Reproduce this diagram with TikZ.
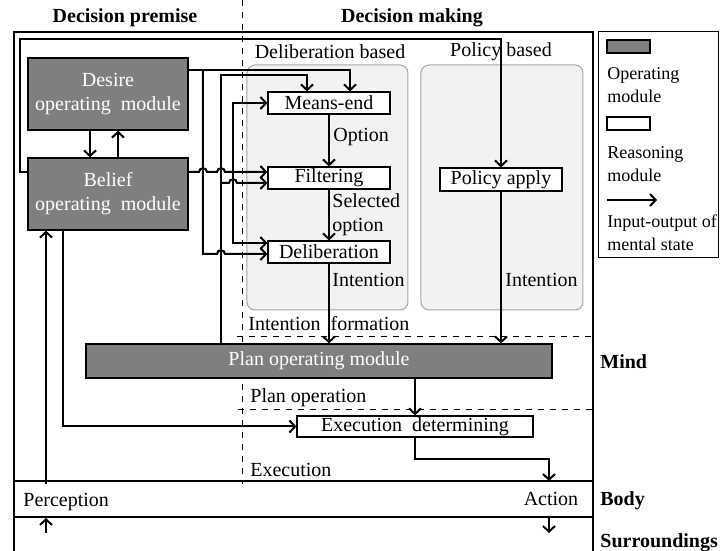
\documentclass[tikz,border=0pt]{standalone}
\usepackage{fontspec}
\setmainfont{Liberation Serif}
\usetikzlibrary{arrows.meta, positioning}
\definecolor{opgray}{HTML}{7F7F7F}
\definecolor{groupfill}{HTML}{F2F2F2}
\definecolor{groupline}{HTML}{A6A6A6}

\begin{document}
\begin{tikzpicture}[x=0.5pt,y=-0.5pt,font=\fontsize{10}{12}\selectfont,
    opmod/.style={draw=black,line width=0.6pt,fill=opgray,text=white,align=center,inner sep=0pt},
    reasmod/.style={draw=black,line width=0.6pt,fill=white,inner sep=0pt,minimum width=61pt,minimum height=11pt},
    io/.style={line width=1pt,-{Straight Barb[length=2.8pt,width=6pt]}},
    group/.style={draw=groupline,fill=groupfill,rounded corners=4pt,line width=0.5pt},
    frame/.style={line width=0.8pt},
    sep/.style={dashed,line width=0.4pt},
    lbl/.style={anchor=west,inner sep=0pt,align=left},
    legtext/.style={lbl,font=\fontsize{9}{11.5}\selectfont},
    head/.style={font=\fontsize{10}{12}\selectfont\bfseries}]
    \useasboundingbox (0,0) rectangle (720,551);
    % frame and layers
    \draw[frame] (14,551) -- (14,32) -- (593,32) -- (593,551);
    \draw[frame] (14,481) -- (593,481);
    \draw[frame] (14,517) -- (593,517);
    \draw[sep] (242,0) -- (242,484);
    \draw[sep] (237,336) -- (593,336);
    \draw[sep] (238,409) -- (593,409);
    \node[head] (hprem) at (125,18) {Decision premise};
    \node[head] (hmake) at (412,18) {Decision making};
    \node[head,lbl] (lmind) at (600,362) {Mind};
    \node[head,lbl] (lbody) at (600,501) {Body};
    \node[head,lbl] (lsurr) at (600,543) {Surroundings};
    % groups
    \draw[group] (247,65) rectangle (408,310);
    \draw[group] (421,65) rectangle (583,310);
    \node (gdelib) at (330,52) {Deliberation based};
    \node (gpolicy) at (501,52) {Policy based};
    % modules
    \node[opmod,minimum width=80pt,minimum height=36pt] (desire) at (108,94) {Desire\\operating~~module};
    \node[opmod,minimum width=80pt,minimum height=36pt] (belief) at (108,194) {Belief\\operating~~module};
    \node[opmod,minimum width=233pt,minimum height=17pt] (plan) at (319,361) {Plan operating module};
    \node[reasmod] (means) at (329,103) {Means-end};
    \node[reasmod] (filter) at (329,178) {Filtering};
    \node[reasmod] (delib) at (329,252) {Deliberation};
    \node[reasmod,minimum height=11.5pt] (policy) at (501,179.5) {Policy apply};
    \node[reasmod,minimum width=118pt,minimum height=10.5pt] (execdet) at (415,426.5) {Execution~~determining};
    % desire / belief
    \draw[io] (desire.south -| 90,0) -- (belief.north -| 90,0);
    \draw[io] (belief.north -| 118,0) -- (desire.south -| 118,0);
    \draw[io] (desire.east |- 0,70) -| (means.north -| 350,0);
    \draw[io] (203,70) -- (203,254) -- (217,254) .. controls (217,249) and (225,249) .. (225,254) -- (delib.west |- 0,254);
    \draw[io] (belief.east |- 0,172) -- (199,172) .. controls (199,167) and (207,167) .. (207,172)
      -- (217,172) .. controls (217,167) and (225,167) .. (225,172) -- (filter.west |- 0,172);
    \draw[io] (233,172) |- (means.west);
    \draw[io] (233,172) |- (delib.west |- 0,243);
    \draw[io] (belief.west |- 0,172) -- (20,172) -- (20,39) -| (policy.north);
    % plan feedback
    \draw[io] (plan.north -| 221,0) -- (221,75) -| (means.north -| 307,0);
    \draw[io] (221,183) -- (229,183) .. controls (229,178) and (237,178) .. (237,183) -- (filter.west |- 0,183);
    % reasoning chain
    \draw[io] (means) -- (filter);
    \node[lbl] (lopt) at (333,137) {Option};
    \draw[io] (filter) -- (delib);
    \node[lbl] (lsel) at (332,215) {Selected\\option};
    \draw[io] (delib) -- (plan.north -| delib.south);
    \node[lbl] (lint1) at (332,280) {Intention};
    \draw[io] (policy) -- (plan.north -| policy.south);
    \node[lbl] (lint2) at (505,280) {Intention};
    \node[lbl] (lform) at (248,324) {Intention~~formation};
    % plan operation and execution
    \draw[io] (execdet.north |- plan.south) -- (execdet.north);
    \node[lbl] (lpop) at (250,398) {Plan operation};
    \draw[io] (belief.south -| 63,0) |- (execdet.west);
    \coordinate (actin) at (549,481);
    \draw[io] (execdet.south) -- (execdet.south |- 0,459) -| (actin);
    \node[lbl] (lexec) at (250,470) {Execution};
    % body
    \coordinate (percin) at (46,484);
    \draw[io] (percin) -- (belief.south -| 46,0);
    \node[lbl] (lperc) at (23,502) {Perception};
    \node (lact) at (551,499) {Action};
    \coordinate (sensa) at (46,533);
    \coordinate (sensb) at (46,518);
    \draw[io] (sensa) -- (sensb);
    \coordinate (acta) at (549,518);
    \coordinate (actb) at (549,533);
    \draw[io] (acta) -- (actb);
    % legend
    \draw[line width=0.5pt] (599,32) rectangle (719,258);
    \node[opmod,minimum width=21.5pt,minimum height=6.5pt] (legop) at (628.5,46.5) {};
    \node[legtext] (legoptx) at (607,85) {Operating\\module};
    \node[reasmod,minimum width=21.5pt,minimum height=6.5pt] (legre) at (628.5,123.5) {};
    \node[legtext] (legretx) at (607,164) {Reasoning\\module};
    \coordinate (lega) at (607,200);
    \coordinate (legb) at (657,200);
    \draw[io] (lega) -- (legb);
    \node[legtext] (legiotx) at (607,233) {Input-output of\\mental state};
\end{tikzpicture}
\end{document}
